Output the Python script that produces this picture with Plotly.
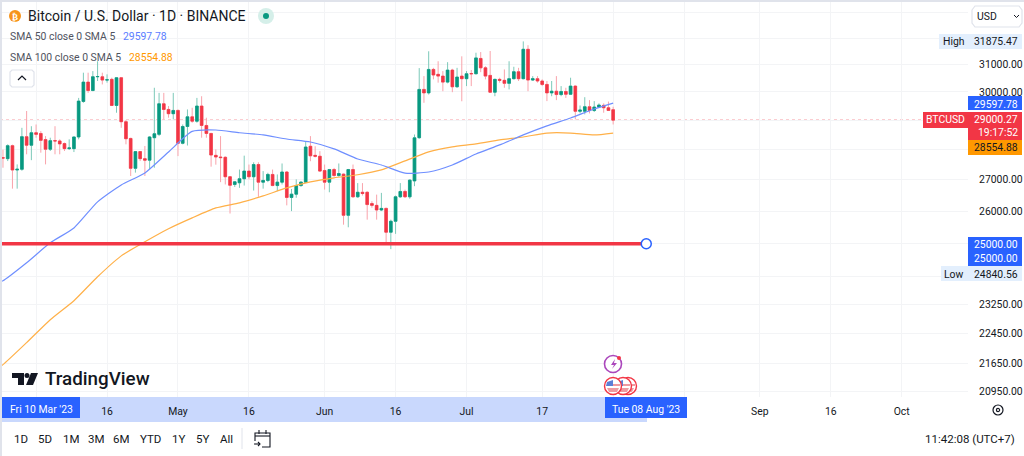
import pandas as pd
import plotly.graph_objects as go

W = 1024
H = 456
PANE_RIGHT = 968
PANE_BOTTOM = 397

GREEN = '#089981'
RED = '#f23645'
BLUE = '#2962ff'
ORANGE = '#ff9800'
INK = '#131722'
SOFT = '#e3effd'
FONT = 'Roboto'

dates = pd.date_range('2023-03-25', '2023-08-01', freq='D')

opens = [
    27720, 27690, 28125, 27315, 27340, 28430, 28140,
    28565, 28540, 28330, 28005, 28295, 28285, 28195, 28025, 28025, 28420,
    29660, 30355, 30050, 30550, 30550, 30430, 30455, 29515, 30515, 28945,
    28370, 27370, 27925, 27690, 27640, 28395, 28510, 29575, 29375, 29225,
    29340, 28205, 28780, 29115, 28965, 29495, 28815, 28540, 27800, 27745,
    27735, 27095, 26845, 26900, 27030, 27280, 27095, 27495, 26920, 26975,
    27170, 26810, 26920, 27250, 26430, 26535, 26810, 26920, 28105, 27800,
    27770, 27300, 26920, 27330, 27135, 27180, 25870, 27330, 26450, 26595,
    26595, 26235, 26180, 26035, 26085, 25350, 25685, 26450, 26620, 26450,
    26960, 28395, 30090, 29965, 30820, 30640, 30575, 30355, 30795, 30185,
    30575, 30480, 30670, 30660, 31230, 30880, 30600, 29990, 30455, 30420,
    30310, 30480, 30735, 30480, 31575, 30430, 30480, 30395, 30270, 29965,
    30025, 29905, 30015, 29915, 30210, 29310, 29310, 29470, 29340, 29460,
    29520, 29435, 29365,
]
highs = [
    27990, 28170, 28160, 27500, 28735, 29320, 28790,
    28850, 28620, 28450, 28395, 28790, 28340, 28230, 28340, 28430, 29785,
    30700, 30700, 30760, 31125, 30700, 30640, 30515, 30525, 30525, 29005,
    28395, 27945, 27945, 28115, 28450, 30150, 29965, 29965, 29495, 29965,
    29375, 28850, 29375, 29435, 29785, 29845, 29085, 28565, 28000, 28450,
    27770, 27120, 26955, 27330, 27790, 27495, 27570, 27570, 27280, 27225,
    27330, 27170, 27530, 27280, 26700, 27010, 26950, 28280, 28450, 28105,
    27940, 27495, 27350, 27385, 27530, 27200, 27350, 27495, 26890, 26890,
    26625, 26310, 26520, 26575, 26110, 25735, 26490, 26890, 26680, 27010,
    28505, 30870, 30575, 31500, 30880, 31125, 30760, 31090, 30845, 30880,
    31310, 30760, 30800, 31445, 31470, 30940, 31510, 30480, 30515, 30820,
    31125, 30920, 30880, 31875.47, 31730, 30575, 30575, 30455, 30395, 30395,
    30575, 30210, 30150, 30515, 30235, 29515, 29810, 29705, 29670, 29590,
    29590, 29655, 29470,
]
lows = [
    27390, 27610, 26710, 26710, 27290, 27835, 27640,
    28395, 27890, 27500, 27945, 27835, 27835, 27945, 27980, 27910, 28340,
    29610, 29965, 30025, 30395, 30270, 30335, 29495, 29260, 28735, 28170,
    27120, 27230, 27610, 27120, 27335, 27390, 28450, 29025, 29085, 29025,
    27775, 28170, 28130, 28910, 28910, 28395, 28395, 27425, 27490, 26920,
    26845, 25925, 26765, 26735, 26810, 27010, 26650, 26450, 26710, 26920,
    26790, 26630, 26845, 26180, 26000, 26420, 26770, 26905, 27605, 27730,
    27250, 26680, 26595, 27095, 27095, 25580, 25500, 26420, 26420, 26490,
    25735, 26105, 25735, 26000, 25000, 24840.56, 25300, 26420, 26420, 26390,
    26790, 28360, 29610, 29905, 30455, 30335, 30025, 30310, 29990, 30150,
    29665, 30210, 30210, 30640, 30720, 30455, 29965, 29845, 30335, 30150,
    30090, 30455, 30395, 30455, 30025, 30395, 30335, 30210, 29670, 29845,
    29705, 29845, 29785, 29890, 29025, 29240, 29200, 29235, 29285, 29435,
    29260, 29320, 28850,
]
closes = [
    27710, 28125, 27315, 27340, 28430, 28140, 28565,
    28510, 28305, 28005, 28295, 28285, 28185, 28025, 28050, 28420, 29670,
    30355, 30050, 30550, 30560, 30430, 30440, 29515, 30515, 28945, 28360,
    27370, 27925, 27690, 27640, 28420, 28530, 29575, 29375, 29225, 29340,
    28205, 28780, 29115, 28965, 29495, 28815, 28540, 27810, 27745, 27725,
    27095, 26820, 26930, 27030, 27280, 27095, 27495, 26920, 26975, 27170,
    26810, 26920, 27250, 26430, 26535, 26810, 26920, 28080, 27785, 27770,
    27280, 26920, 27330, 27135, 27200, 25870, 27330, 26450, 26595, 26555,
    26205, 26180, 26035, 26085, 25350, 25685, 26450, 26620, 26450, 26985,
    28390, 30090, 29965, 30820, 30615, 30575, 30355, 30795, 30185, 30540,
    30480, 30660, 30660, 31250, 30880, 30575, 29990, 30455, 30420, 30310,
    30480, 30735, 30480, 31575, 30430, 30480, 30395, 30270, 29965, 30025,
    29905, 30015, 29915, 30210, 29310, 29355, 29470, 29340, 29460, 29530,
    29435, 29340, 29000.27,
]

sma_dates = [
    '2023-03-24', '2023-03-25', '2023-03-30', '2023-04-04', '2023-04-09', '2023-04-14',
    '2023-04-19', '2023-04-24', '2023-04-29', '2023-05-04', '2023-05-09',
    '2023-05-14', '2023-05-19', '2023-05-24', '2023-05-29', '2023-06-03',
    '2023-06-08', '2023-06-13', '2023-06-18', '2023-06-23', '2023-06-28',
    '2023-07-03', '2023-07-08', '2023-07-13', '2023-07-18', '2023-07-23',
    '2023-07-28', '2023-08-01',
]
sma_50 = [
    23880, 23915, 24437, 25030, 25480, 26290,
    26830, 27220, 27914, 28610, 28660,
    28565, 28490, 28350, 28250, 28015,
    27680, 27480, 27215, 27250, 27480,
    27847, 28150, 28490, 28800, 29075,
    29390, 29597.78,
]
sma_100 = [
    21545, 21624, 22203, 22823, 23349, 24030,
    24640, 25060, 25455, 25790, 26100,
    26260, 26480, 26735, 26930, 27060,
    27160, 27320, 27615, 27915, 28085,
    28183, 28320, 28420, 28555, 28555,
    28490, 28554.88,
]

level_dates = ['2023-03-10', '2023-08-08']
level_prices = [25000, 25000]

price_ticks = [33000, 32000, 31000, 30000, 29000, 28000, 27000, 26000, 25000,
               24050, 23250, 22450, 21650, 20950]
price_labels = ['', '', '31000.00', '30000.00', '', '', '27000.00', '26000.00', '',
                '', '23250.00', '22450.00', '21650.00', '20950.00']

time_ticks = ['2023-04-01', '2023-04-16', '2023-05-01', '2023-05-16', '2023-06-01',
              '2023-06-16', '2023-07-01', '2023-07-17', '2023-08-01', '2023-08-16',
              '2023-09-01', '2023-09-16', '2023-10-01']
time_labels = ['', '16', 'May', '16', 'Jun', '16', 'Jul', '17', '', '', 'Sep', '16', 'Oct']

range_buttons = ['1D', '5D', '1M', '3M', '6M', 'YTD', '1Y', '5Y', 'All']
range_button_x = [21, 45, 71, 96, 121, 150, 178, 202, 226]


def px(x):
    return x / W


def py(y):
    return 1 - y / H


def rect(x0, y0, x1, y1, fill, line=None, layer='above'):
    return dict(
        type='rect', xref='paper', yref='paper', layer=layer,
        x0=px(x0), x1=px(x1), y0=py(y0), y1=py(y1),
        fillcolor=fill, line=dict(color=line or fill, width=1 if line else 0),
    )


def circle(cx, cy, r, fill, line=None, width=1):
    return dict(
        type='circle', xref='paper', yref='paper', layer='above',
        x0=px(cx - r), x1=px(cx + r), y0=py(cy - r), y1=py(cy + r),
        fillcolor=fill, line=dict(color=line or fill, width=width if line else 0),
    )


def path(points, fill=None, line=None, width=1.2, closed=False):
    d = 'M ' + ' L '.join(f'{px(x):.5f},{py(y):.5f}' for x, y in points)
    if closed:
        d += ' Z'
    return dict(
        type='path', xref='paper', yref='paper', layer='above', path=d,
        fillcolor=fill or 'rgba(0,0,0,0)',
        line=dict(color=line or 'rgba(0,0,0,0)', width=width if line else 0),
    )


def label(x, y, text, size=12, color=INK, anchor='left', family=FONT, weight=None):
    return dict(
        xref='paper', yref='paper', x=px(x), y=py(y), text=text, showarrow=False,
        xanchor=anchor, yanchor='middle', align=anchor,
        font=dict(size=size, color=color, family=family, weight=weight),
        borderpad=0, borderwidth=0,
    )


body_high = [max(o, c) for o, c in zip(opens, closes)]
body_low = [min(o, c) for o, c in zip(opens, closes)]

fig = go.Figure()

# wicks first, lighter than the bodies like on the real chart
fig.add_trace(go.Candlestick(
    x=dates, open=opens, high=highs, low=lows, close=closes,
    increasing=dict(line=dict(color='#7cc9b9', width=1), fillcolor=GREEN),
    decreasing=dict(line=dict(color='#f9a3ab', width=1), fillcolor=RED),
    showlegend=False, hoverinfo='skip',
))
fig.add_trace(go.Candlestick(
    x=dates, open=opens, high=body_high, low=body_low, close=closes,
    increasing=dict(line=dict(color=GREEN, width=0.6), fillcolor=GREEN),
    decreasing=dict(line=dict(color=RED, width=0.6), fillcolor=RED),
    showlegend=False, hoverinfo='skip',
))
fig.add_trace(go.Scatter(
    x=sma_dates, y=sma_100, mode='lines',
    line=dict(color='#ffb048', width=1.2, shape='spline', smoothing=0.6), showlegend=False,
))
fig.add_trace(go.Scatter(
    x=sma_dates, y=sma_50, mode='lines',
    line=dict(color='#6f8fff', width=1.2, shape='spline', smoothing=0.6), showlegend=False,
))
fig.add_trace(go.Scatter(
    x=level_dates, y=level_prices, mode='lines',
    line=dict(color=RED, width=3.5), showlegend=False,
))
fig.add_trace(go.Scatter(
    x=level_dates[1:], y=level_prices[1:], mode='markers',
    marker=dict(size=10, color='white', line=dict(color=BLUE, width=1.5)),
    showlegend=False, cliponaxis=False,
))

shapes = [
    # time axis strip sits under the tick labels
    rect(2, PANE_BOTTOM, 647, 422, '#c9d8fd', layer='below'),
    dict(type='line', xref='paper', yref='y', layer='below',
         x0=0, x1=px(PANE_RIGHT), y0=closes[-1], y1=closes[-1],
         line=dict(color='#f47a85', width=1, dash='dot')),

    # window edge
    rect(0, 0, W, 2, '#e0e3eb'),
    rect(0, 0, 2, H, '#e0e3eb'),

    # price axis labels
    path([(972, 10), (975, 6), (1019, 6), (1022, 10), (1022, 23), (1019, 27), (975, 27), (972, 23)],
         fill='white', line='#e0e3eb', closed=True),
    path([(1014, 15), (1016.5, 17.5), (1019, 15)], line=INK, width=1),
    rect(939, 34, 968, 49, SOFT),
    rect(968, 34, 1022, 49, SOFT),
    rect(968, 96, 1022, 110, BLUE),
    rect(923, 112, 968, 128, RED),
    rect(968, 112, 1022, 140, RED),
    rect(968, 140, 1022, 155, ORANGE),
    rect(968, 237, 1022, 266, BLUE),
    rect(941, 266, 968, 281, SOFT),
    rect(968, 266, 1022, 281, SOFT),

    # date labels
    rect(2, PANE_BOTTOM, 80, 418, BLUE),
    rect(605, PANE_BOTTOM, 687, 418, BLUE),

    # header icons
    circle(15, 16, 6, '#f7931a'),
    circle(266, 16, 8, '#d5efe9'),
    circle(266, 16, 3, GREEN),

    # collapse button
    path([(12, 70), (32, 70), (34, 72), (34, 85), (32, 87), (12, 87), (10, 85), (10, 72)],
         fill='white', line='#e0e3eb', closed=True),
    path([(18, 80), (22, 76), (26, 80)], line=INK, width=1.2),

    # TradingView mark
    path([(12, 373), (24, 373), (24, 385), (18, 385), (18, 378), (12, 378)], fill=INK, closed=True),
    circle(27, 375.5, 2.5, INK),
    path([(31, 373), (38, 373), (33, 385), (26, 385)], fill=INK, closed=True),

    # event markers
    circle(613, 364, 8.5, 'white', '#ab47bc', 1.6),
    path([(615, 359), (611, 365), (614, 365), (612, 369), (617, 363), (614, 363)], fill='#ab47bc', closed=True),
    circle(619, 358, 2, RED),
]
for cx in [628, 623, 613]:
    shapes.append(circle(cx, 386, 8.5, 'white', RED, 1.4))
    shapes.append(path([(cx - 6, 388), (cx + 6, 388), (cx + 4, 392), (cx - 4, 392)], fill='#ef9aa0', closed=True))
    shapes.append(path([(cx - 1, 384), (cx + 7, 384), (cx + 7, 386), (cx - 1, 386)], fill='#ef9aa0', closed=True))
    shapes.append(path([(cx - 6, 382), (cx, 380), (cx, 386), (cx - 7, 386)], fill='#5c7fd6', closed=True))

shapes += [
    # toolbar
    dict(type='line', xref='paper', yref='paper', layer='above',
         x0=px(242), x1=px(242), y0=py(428), y1=py(449), line=dict(color='#e0e3eb', width=1)),
    path([(255, 441), (255, 433), (270, 433), (270, 447), (262, 447)], line=INK, width=1.1),
    path([(255, 436), (270, 436)], line=INK, width=1.1),
    path([(259, 430), (259, 434)], line=INK, width=1.1),
    path([(266, 430), (266, 434)], line=INK, width=1.1),
    path([(254, 444), (260, 444)], line=INK, width=1.1),
    path([(258, 442), (260, 444), (258, 446)], line=INK, width=1.1),

    # settings gear
    circle(998, 410, 5, 'white', INK, 1.2),
    circle(998, 410, 1.6, 'white', INK, 1.2),
]

annotations = [
    label(15, 16.5, '₿', size=9, color='white', anchor='center', family='DejaVu Sans', weight='bold'),
    label(28, 16, 'Bitcoin / U.S. Dollar · 1D · BINANCE', size=14),
    label(10, 36, 'SMA 50 close 0 SMA 5', size=10.4, color='#50535e'),
    label(123, 36, '29597.78', size=10.4, color='#5b7dff'),
    label(10, 57, 'SMA 100 close 0 SMA 5', size=10.4, color='#50535e'),
    label(129, 57, '28554.88', size=10.4, color=ORANGE),

    label(977, 16, 'USD', size=10.4),
    label(954, 41.5, 'High', size=10.4, anchor='center'),
    label(1018, 41.5, '31875.47', size=10.4, anchor='right'),
    label(1018, 104, '29597.78', size=10.4, color='white', anchor='right'),
    label(945, 120, 'BTCUSD', size=10.4, color='white', anchor='center'),
    label(1018, 120, '29000.27', size=10.4, color='white', anchor='right'),
    label(1018, 132, '19:17:52', size=10.4, color='white', anchor='right'),
    label(1018, 147.5, '28554.88', size=10.4, anchor='right'),
    label(1018, 244, '25000.00', size=10.4, color='white', anchor='right'),
    label(1018, 258, '25000.00', size=10.4, color='white', anchor='right'),
    label(954, 274, 'Low', size=10.4, anchor='center'),
    label(1018, 274, '24840.56', size=10.4, anchor='right'),

    label(41, 409, "Fri 10 Mar '23", size=10.4, color='white', anchor='center'),
    label(646, 409, "Tue 08 Aug '23", size=10.4, color='white', anchor='center'),

    label(45, 379, 'TradingView', size=18.8, weight=500),
    label(1015, 439, '11:42:08 (UTC+7)', size=11.5, anchor='right'),
]
for text, x in zip(range_buttons, range_button_x):
    annotations.append(label(x, 439, text, size=11.5, anchor='center'))

fig.update_layout(
    width=W,
    height=H,
    autosize=False,
    margin=dict(l=0, r=0, t=0, b=0),
    paper_bgcolor='white',
    plot_bgcolor='white',
    showlegend=False,
    boxgap=0.2,
    font=dict(family=FONT, size=12, color=INK),
    shapes=shapes,
    annotations=annotations,
    xaxis=dict(
        type='date',
        domain=[0, px(PANE_RIGHT)],
        range=['2023-03-24 08:53', '2023-10-15 00:29'],
        rangeslider=dict(visible=False),
        tickmode='array',
        tickvals=time_ticks,
        ticktext=time_labels,
        tickfont=dict(size=10.4, color=INK),
        showgrid=True,
        gridcolor='#f3f4f6',
        gridwidth=1,
        ticks='outside',
        ticklen=5,
        tickcolor='rgba(0,0,0,0)',
        zeroline=False,
        showline=False,
    ),
    yaxis=dict(
        type='log',
        domain=[py(PANE_BOTTOM), 1],
        range=[4.31806, 4.52504],
        autorange=False,
        side='right',
        tickmode='array',
        tickvals=price_ticks,
        ticktext=price_labels,
        tickfont=dict(size=10.4, color=INK),
        showgrid=True,
        gridcolor='#f3f4f6',
        gridwidth=1,
        ticks='outside',
        ticklen=8,
        tickcolor='rgba(0,0,0,0)',
        zeroline=False,
        showline=False,
    ),
)

fig.write_html('out.html', config=dict(displayModeBar=False),
               post_script="document.body.style.margin='0';document.documentElement.style.overflow='hidden';")
